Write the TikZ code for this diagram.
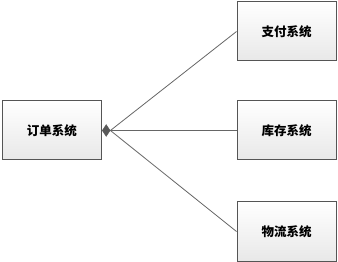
\documentclass[tikz,border=0pt]{standalone}
\usepackage{fontspec}
\newfontfamily\cjk{Noto Sans CJK SC}
\usetikzlibrary{shapes.geometric}
\definecolor{boxline}{HTML}{555555}
\definecolor{conn}{HTML}{666666}
\begin{document}
\begin{tikzpicture}[x=1pt,y=-1pt,
  sysbox/.style={draw=boxline, line width=1pt, minimum width=99pt, minimum height=59pt,
    top color=white, bottom color=black!9, inner sep=0pt,
    font=\cjk\bfseries\fontsize{12.5}{14}\selectfont},
  conline/.style={draw=conn, line width=0.8pt},
  diam/.style={diamond, fill=black!65, draw=black!65, inner sep=0pt, minimum width=8pt, minimum height=12pt}]
\useasboundingbox (0,0) rectangle (338,262);
\node[sysbox] (order) at (52,130.5) {订单系统};
\node[sysbox] (pay) at (286.5,31.5) {支付系统};
\node[sysbox] (stock) at (286.5,130.5) {库存系统};
\node[sysbox] (logi) at (286.5,231.5) {物流系统};
\node[diam, anchor=west] (dm) at (order.east) {};
\draw[conline] (dm.east) -- (pay.west);
\draw[conline] (dm.east) -- (stock.west);
\draw[conline] (dm.east) -- (logi.west);
\end{tikzpicture}
\end{document}
